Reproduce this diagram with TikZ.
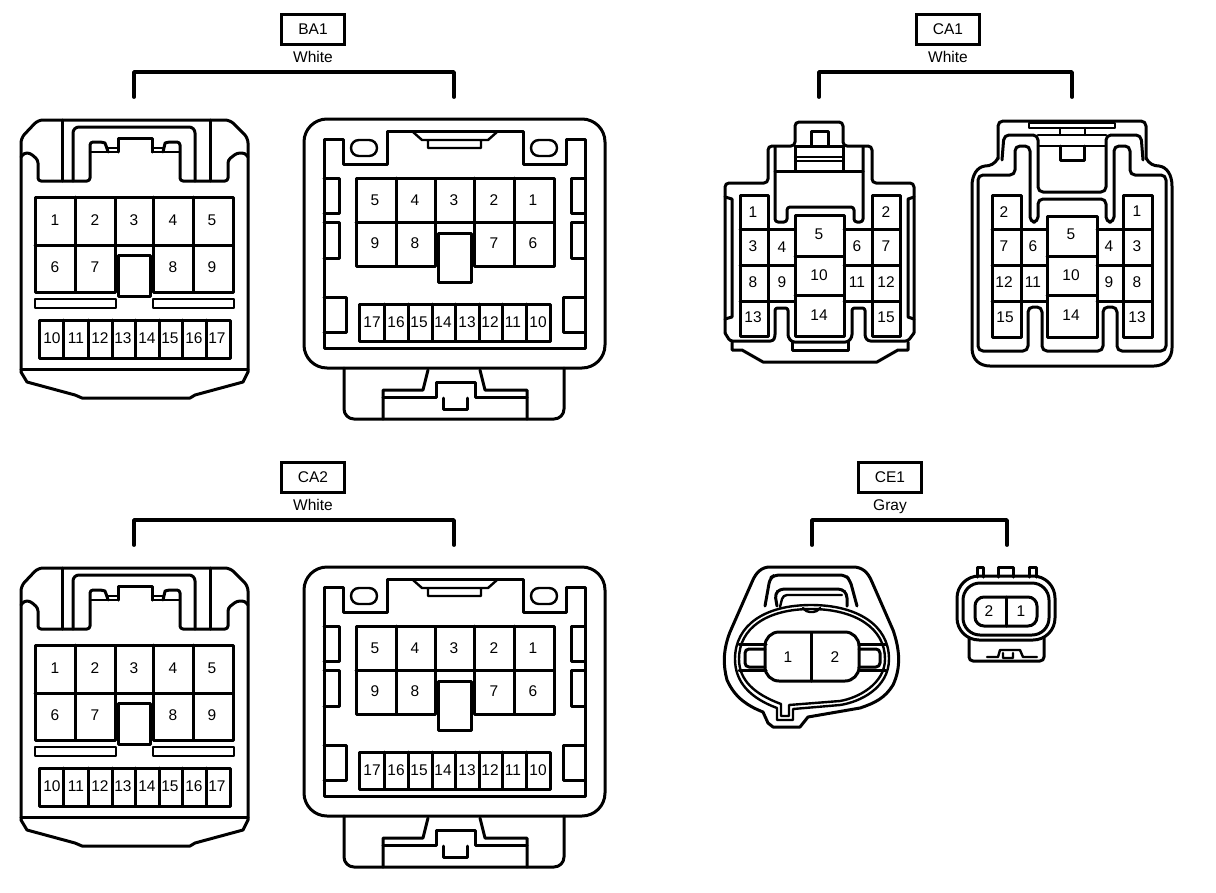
\documentclass[tikz,border=0pt]{standalone}
\usepackage{fontspec}
\setmainfont{Liberation Sans}
\tikzset{
  ln/.style={draw=black,line width=3pt,line join=round,line cap=round},
  thin ln/.style={draw=black,line width=2.4pt,line join=round,line cap=round},
  brk/.style={draw=black,line width=3.8pt,line join=round,line cap=round},
  pin/.style={font=\fontsize{15.5}{17}\selectfont,inner sep=0pt,text=black},
  tag/.style={font=\fontsize{15.5}{17}\selectfont,inner sep=0pt,text=black,text height=11pt,text depth=0pt},
  tagbox/.style={draw=black,line width=3pt,fill=white,font=\fontsize{15.5}{17}\selectfont,minimum width=63pt,minimum height=30pt,inner sep=0pt,text=black},
}
\newcommand\pinat[4]{\node[pin] (#1) at (#2,#3) {#4};}
\newcommand\header[9]{%
  \node[tagbox] (#1box) at (#2,#3) {#4};
  \node[tag] (#1sub) at (#2,#3+28) {#5};
  \draw[brk] (#6,#9) -- (#6,#8) -- (#7,#8) -- (#7,#9);
}
\newcommand\connA[1]{%
  \draw[ln,rounded corners=5pt] (21,372) -- (21,138) -- (38,120) -- (230,120) -- (248,138) -- (248,372);
  \draw[ln] (248,372) -- (243,382) -- (195,395) -- (190,398) -- (82,398) -- (75,395) -- (27,382) -- (21,372);
  \draw[ln,rounded corners=3pt] (21,157) -- (24,153) -- (30,153) -- (38,160) -- (38,181) -- (90,181) -- (90,142) -- (102,142) .. controls (105,143) and (107,148) .. (108,152);
  \draw[ln,rounded corners=3pt] (248,157) -- (245,153) -- (237,153) -- (228,160) -- (228,181) -- (180,181) -- (180,142) -- (168,142) .. controls (165,143) and (164,148) .. (163,152);
  \draw[thin ln] (90,152) -- (118,152) (152,152) -- (180,152) (108,148) -- (118,148) (152,148) -- (163,148);
  \draw[ln] (118,152) -- (118,138) -- (152,138) -- (152,152);
  \draw[ln] (62,120) -- (62,181) (210,120) -- (210,181);
  \draw[ln,rounded corners=6pt] (73,181) -- (73,127) -- (195,127) -- (195,181);
  \draw[ln] (115,197) -- (35,197) -- (35,292) -- (115,292) -- (115,197) -- (233,197) -- (233,292) -- (153,292) -- (153,197);
  \draw[ln] (75,197) -- (75,292) (193,197) -- (193,292) (35,245) -- (233,245);
  \draw[ln,fill=white] (118,255) rectangle (150,296);
  \draw[thin ln] (35,299) rectangle (116,308) (153,299) rectangle (234,308);
  \draw[ln] (39,320) rectangle (230,358);
  \draw[ln] (63,320) -- (63,358) (88,320) -- (88,358) (112,320) -- (112,358) (135,320) -- (135,358) (159,320) -- (159,358) (182,320) -- (182,358) (206,320) -- (206,358);
  \draw[ln] (21,369) -- (248,369);
  \pinat{#1a}{55}{220}{1}\pinat{#1b}{95}{220}{2}\pinat{#1c}{134}{220}{3}\pinat{#1d}{173}{220}{4}\pinat{#1e}{212}{220}{5}
  \pinat{#1f}{55}{267}{6}\pinat{#1g}{95}{267}{7}\pinat{#1h}{173}{267}{8}\pinat{#1i}{212}{267}{9}
  \pinat{#1j}{52}{338}{10}\pinat{#1k}{76}{338}{11}\pinat{#1l}{100}{338}{12}\pinat{#1m}{123}{338}{13}\pinat{#1n}{147}{338}{14}\pinat{#1o}{170}{338}{15}\pinat{#1p}{194}{338}{16}\pinat{#1q}{217}{338}{17}
}
\newcommand\connB[1]{%
  \draw[ln,rounded corners=23pt] (304,119) rectangle (605,368);
  \draw[ln] (324,139) -- (343,139) -- (343,164) -- (387,164) -- (387,131) -- (523,131) -- (523,164) -- (566,164) -- (566,139) -- (585,139) -- (585,348) -- (324,348) -- cycle;
  \draw[thin ln,rounded corners=7.9pt] (351,140) rectangle (377,156) (531,140) rectangle (557,156);
  \draw[thin ln] (413,132) -- (422,140) -- (488,140) -- (497,132) (428,140) -- (428,148) -- (481,148) -- (481,140);
  \draw[ln] (435,178) -- (356,178) -- (356,266) -- (435,266) -- (435,178) -- (554,178) -- (554,266) -- (474,266) -- (474,178);
  \draw[ln] (396,178) -- (396,266) (514,178) -- (514,266) (356,222) -- (554,222);
  \draw[ln,fill=white] (438,233) rectangle (471,282);
  \draw[ln] (324,178) -- (339,178) -- (339,213) -- (324,213) (324,222) -- (339,222) -- (339,258) -- (324,258);
  \draw[ln] (585,178) -- (571,178) -- (571,213) -- (585,213) (585,222) -- (571,222) -- (571,258) -- (585,258);
  \draw[ln] (324,297) -- (346,297) -- (346,332) -- (324,332) (585,297) -- (563,297) -- (563,332) -- (585,332);
  \draw[ln] (359,304) rectangle (550,341);
  \draw[ln] (384,304) -- (384,341) (408,304) -- (408,341) (432,304) -- (432,341) (455,304) -- (455,341) (479,304) -- (479,341) (502,304) -- (502,341) (526,304) -- (526,341);
  \draw[ln,rounded corners=10pt] (344,368) -- (344,419) -- (564,419) -- (564,368);
  \draw[ln] (428,370) -- (423,390) -- (383,390) -- (383,419) (480,370) -- (485,390) -- (527,390) -- (527,419);
  \draw[ln] (383,397) -- (436,397) -- (436,382) -- (475,382) -- (475,397) -- (527,397);
  \draw[ln] (443,398) -- (443,409) -- (467,409) -- (467,398);
  \pinat{#1a}{375}{200}{5}\pinat{#1b}{415}{200}{4}\pinat{#1c}{454}{200}{3}\pinat{#1d}{494}{200}{2}\pinat{#1e}{533}{200}{1}
  \pinat{#1f}{375}{243}{9}\pinat{#1g}{415}{243}{8}\pinat{#1h}{494}{243}{7}\pinat{#1i}{533}{243}{6}
  \pinat{#1j}{372}{322}{17}\pinat{#1k}{396}{322}{16}\pinat{#1l}{419}{322}{15}\pinat{#1m}{443}{322}{14}\pinat{#1n}{467}{322}{13}\pinat{#1o}{490}{322}{12}\pinat{#1p}{513}{322}{11}\pinat{#1q}{538}{322}{10}
}
\begin{document}
\begin{tikzpicture}[x=1pt,y=-1pt]
\useasboundingbox (0,0) rectangle (1216,892);
\header{ba}{313}{29}{BA1}{White}{134}{454}{72}{97}
\header{cao}{948}{29}{CA1}{White}{819}{1072}{72}{97}
\header{cat}{313}{477}{CA2}{White}{134}{454}{520}{545}
\header{ce}{890}{477}{CE1}{Gray}{812}{1007}{520}{545}
\connA{pa}
\connB{pb}
\begin{scope}[yshift=-448pt]
\connA{qa}
\connB{qb}
\end{scope}
% CA1 left
\draw[ln,rounded corners=4pt] (725,333) -- (725,183) -- (768,183) -- (768,146) -- (795,146) -- (795,122) -- (843,122) -- (843,146) -- (872,146) -- (872,183) -- (914,183) -- (914,333);
\draw[ln,rounded corners=2.5pt] (725,333) -- (730,341) -- (773,341) -- (775,337) -- (775,308) -- (788,308) -- (788,337) -- (792,342) -- (848,342) -- (852,337) -- (852,308) -- (865,308) -- (865,337) -- (868,341) -- (908,341) -- (914,333);
\draw[ln] (732,342) -- (732,350) -- (742,350) -- (763,362) -- (877,362) -- (898,350) -- (908,350) -- (908,342);
\draw[ln] (792,342) -- (792,350) -- (848,350) -- (848,342);
\draw[ln] (725,197) -- (732,199) -- (732,317) -- (725,319) (914,197) -- (908,199) -- (908,317) -- (914,319);
\draw[ln] (811,146) -- (811,131) -- (828,131) -- (828,146);
\draw[thin ln] (795,157) -- (843,157) (795,161) -- (843,161);
\draw[ln] (795,146) -- (843,146) (775,171) -- (863,171) (795,146) -- (795,171) (843,146) -- (843,171);
\draw[ln,rounded corners=3pt] (775,147) -- (775,222) -- (787,222) -- (787,207) -- (854,207) -- (854,222) -- (863,222) -- (863,147);
\draw[ln] (740,195) rectangle (768,336) (872,195) rectangle (900,336);
\draw[ln] (795,215) rectangle (844,336);
\draw[ln] (740,229) -- (795,229) (740,265) -- (795,265) (740,301) -- (795,301) (844,229) -- (900,229) (844,265) -- (900,265) (844,301) -- (900,301);
\draw[ln] (795,256) -- (844,256) (795,295) -- (844,295);
\pinat{t1}{753}{212}{1}\pinat{t3}{753}{246}{3}\pinat{t8}{753}{282}{8}\pinat{t13}{753}{317}{13}
\pinat{t4}{782}{247}{4}\pinat{t9}{782}{282}{9}\pinat{t5}{819}{234}{5}\pinat{t10}{819}{275}{10}\pinat{t14}{819}{315}{14}
\pinat{t6}{857}{246}{6}\pinat{t11}{857}{282}{11}\pinat{t2}{886}{212}{2}\pinat{t7}{886}{246}{7}\pinat{t12}{886}{282}{12}\pinat{t15}{886}{317}{15}
% CA1 right
\draw[ln,rounded corners=5pt] (998,159) -- (998,121) -- (1146,121) -- (1146,159);
\draw[ln] (998,158) .. controls (995,164) and (990,166) .. (985,166) .. controls (977,167) and (972,175) .. (972,186) -- (972,348) .. controls (972,360) and (980,366) .. (990,366) -- (1154,366) .. controls (1165,366) and (1172,358) .. (1172,348) -- (1172,186) .. controls (1172,175) and (1167,167) .. (1159,166) .. controls (1154,166) and (1149,164) .. (1146,158);
\draw[ln,rounded corners=5pt] (978,351) -- (978,175) -- (1015,175) -- (1015,146) -- (1030,146) -- (1030,222) -- (1038,222) -- (1038,199) -- (1106,199) -- (1106,222) -- (1114,222) -- (1114,146) -- (1130,146) -- (1130,175) -- (1166,175) -- (1166,351) -- (1117,351) -- (1117,307) -- (1103,307) -- (1103,351) -- (1042,351) -- (1042,307) -- (1028,307) -- (1028,351) -- cycle;
\draw[ln,rounded corners=5pt] (1002,160) -- (1004,135) -- (1038,135) -- (1038,192) -- (1106,192) -- (1106,135) -- (1141,135) -- (1143,160);
\draw[thin ln] (1029,123) rectangle (1115,128) (1060,128) -- (1060,135) (1085,128) -- (1085,135) (1038,146) -- (1106,146) (1038,135) -- (1106,135);
\draw[ln] (1060,146) -- (1060,160) -- (1084,160) -- (1084,146);
\draw[ln] (992,195) rectangle (1021,337) (1123,195) rectangle (1152,337);
\draw[ln] (1047,216) rectangle (1097,337);
\draw[ln] (992,229) -- (1047,229) (992,265) -- (1047,265) (992,301) -- (1047,301) (1097,229) -- (1152,229) (1097,265) -- (1152,265) (1097,301) -- (1152,301);
\draw[ln] (1047,256) -- (1097,256) (1047,295) -- (1097,295);
\pinat{u2}{1004}{212}{2}\pinat{u7}{1004}{246}{7}\pinat{u12}{1004}{282}{12}\pinat{u15}{1005}{317}{15}
\pinat{u6}{1033}{246}{6}\pinat{u11}{1033}{282}{11}\pinat{u5}{1071}{234}{5}\pinat{u10}{1071}{275}{10}\pinat{u14}{1071}{315}{14}
\pinat{u4}{1109}{246}{4}\pinat{u9}{1109}{282}{9}\pinat{u1}{1137}{211}{1}\pinat{u3}{1137}{246}{3}\pinat{u8}{1137}{282}{8}\pinat{u13}{1137}{317}{13}
% CE1 left
\draw[ln] (770,567) -- (853,567) .. controls (862,567) and (868,572) .. (872,582) -- (893,630) .. controls (900,650) and (901,668) .. (893,685) .. controls (885,698) and (875,703) .. (860,708) -- (808,717) -- (800,727) -- (773,727) -- (768,723) -- (763,712) .. controls (748,706) and (735,698) .. (727,680) .. controls (723,665) and (723,650) .. (730,632) -- (752,582) .. controls (756,572) and (762,567) .. (770,567) -- cycle;
\draw[thin ln] (735,659) .. controls (735,625) and (765,605) .. (811,605) .. controls (857,605) and (889,625) .. (889,659) .. controls (889,688) and (860,702) .. (840,705) -- (793,709) -- (793,720) -- (777,720) -- (777,708) .. controls (750,698) and (735,682) .. (735,659) -- cycle;
\draw[thin ln] (739,659) .. controls (739,628) and (767,609) .. (811,609) .. controls (855,609) and (885,628) .. (885,659) .. controls (885,684) and (858,698) .. (840,701) -- (789,705) -- (789,716) -- (781,716) -- (781,704) .. controls (754,694) and (739,680) .. (739,659) -- cycle;
\draw[ln,rounded corners=5pt] (765,606) -- (770,578) -- (775,575) -- (845,575) -- (850,580) -- (857,606);
\draw[ln,rounded corners=4pt] (777,606) -- (775,594) -- (780,589) -- (842,589) -- (847,594) -- (847,606);
\draw[thin ln,rounded corners=4pt] (780,607) -- (783,595) -- (842,595) (803,608) -- (806,612) -- (817,612) -- (820,608);
\draw[ln,rounded corners=14pt] (765,632) rectangle (859,681);
\draw[ln] (811,633) -- (811,681);
\draw[ln] (739,644) -- (766,644) (739,670) -- (766,670) (859,644) -- (886,644) (859,670) -- (886,670);
\draw[ln,rounded corners=4pt] (765,649) -- (745,649) -- (745,667) -- (765,667) (859,649) -- (880,649) -- (880,667) -- (859,667);
\pinat{v1}{788}{657}{1}\pinat{v2}{835}{657}{2}
% CE1 right
\draw[ln,rounded corners=22pt] (957,576) rectangle (1055,640);
\draw[ln,rounded corners=17pt] (963,583) rectangle (1049,635);
\draw[ln,rounded corners=9pt] (975,597) rectangle (1037,626);
\draw[ln] (1006,597) -- (1006,626);
\draw[ln] (977,577) -- (977,567) -- (983,567) -- (983,577) (998,577) -- (998,567) -- (1013,567) -- (1013,577) (1029,577) -- (1029,567) -- (1036,567) -- (1036,577);
\draw[ln,rounded corners=4pt] (969,638) -- (969,661) -- (1044,661) -- (1044,638);
\draw[thin ln] (987,657) -- (998,657) -- (1000,650) -- (1020,650) -- (1023,657) -- (1037,657) (1003,653) -- (1003,658) -- (1013,658) -- (1013,653);
\pinat{w2}{989}{611}{2}\pinat{w1}{1021}{611}{1}
\end{tikzpicture}
\end{document}
